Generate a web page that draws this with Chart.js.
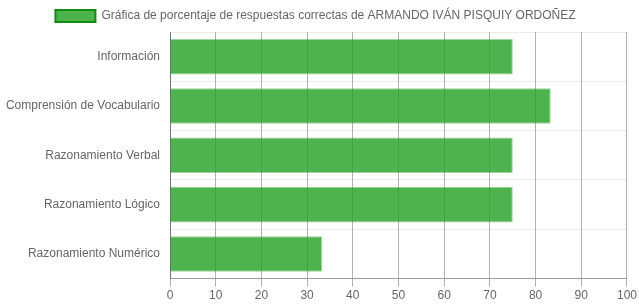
<!DOCTYPE html>
<html><head><meta charset="utf-8">
<script src="https://cdn.jsdelivr.net/npm/chart.js@4"></script>
<style>html,body{margin:0;padding:0;background:#fff}#w{width:639px;height:308px}</style>
</head><body><div id="w"><canvas id="c"></canvas></div>
<script>
const categories = ["Información","Comprensión de Vocabulario","Razonamiento Verbal","Razonamiento Lógico","Razonamiento Numérico"];
const values = [75, 83.3, 75, 75, 33.3];
const seriesLabel = "Gráfica de porcentaje de respuestas correctas de ARMANDO IVÁN PISQUIY ORDOÑEZ";
const xTicks = [0,10,20,30,40,50,60,70,80,90,100];

Chart.defaults.font.family = "'Liberation Sans', Arial, sans-serif";
Chart.defaults.font.size = 12;
Chart.defaults.color = "#666";

new Chart(document.getElementById('c'), {
  type: 'bar',
  data: { labels: categories, datasets: [{
    label: seriesLabel, data: values,
    backgroundColor: 'rgba(34,160,34,0.8)',
    borderColor: 'rgba(34,160,34,0.45)', borderWidth: 1
  }]},
  options: {
    indexAxis: 'y', responsive: true, maintainAspectRatio: false, animation: false,
    layout: { padding: { left: 4, right: 12, top: 0, bottom: 3 } },
    plugins: {
      tooltip: { enabled: false },
      legend: { labels: { boxWidth: 40, boxHeight: 12, padding: 10,
        generateLabels: (ch) => ch.data.datasets.map((d,i)=>({ text: d.label, fillStyle: '#4cb34c', strokeStyle: '#108a10', lineWidth: 2, datasetIndex: i, fontColor: '#666' })) } }
    },
    scales: {
      x: { min: 0, max: 100, afterBuildTicks: (ax)=>{ ax.ticks = xTicks.map(v=>({value:v})); },
        grid: { color: 'rgba(0,0,0,0.3)', tickLength: 8 },
        border: { color: 'rgba(0,0,0,0.35)' },
        ticks: { padding: 2 } },
      y: { grid: { color: 'rgba(0,0,0,0.08)', tickLength: 0 },
        afterFit: (ax)=>{ ax.width = 166; },
        border: { color: 'rgba(0,0,0,0.35)' }, ticks: { padding: 10 } }
    }
  }
});
</script></body></html>
